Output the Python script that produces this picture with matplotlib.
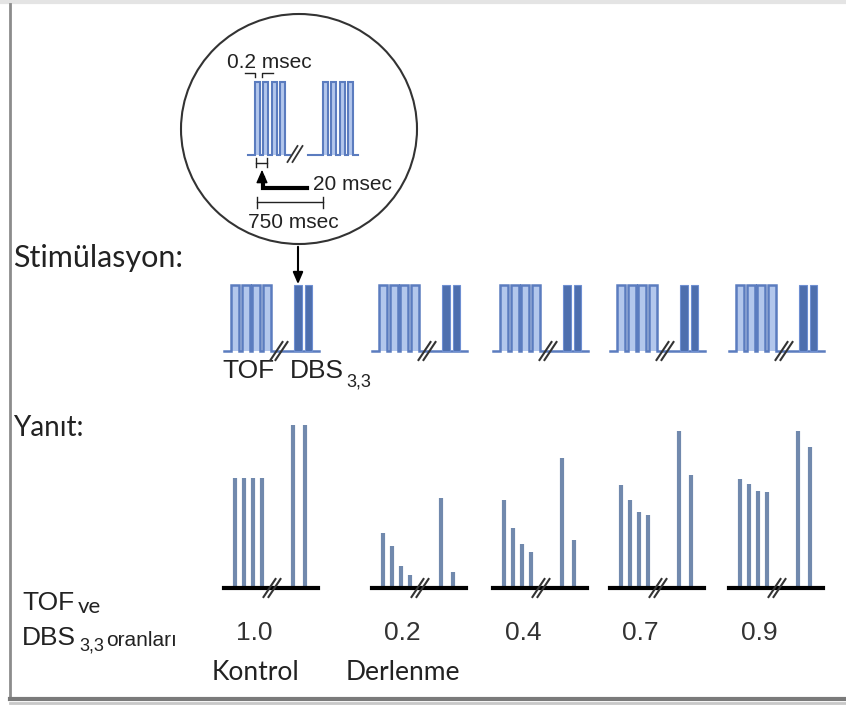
import matplotlib
matplotlib.use("Agg")
import matplotlib.pyplot as plt
from matplotlib.patches import Ellipse, Rectangle

# --- data -------------------------------------------------------------
ratio_labels = ["1.0", "0.2", "0.4", "0.7", "0.9"]
group_names = ["Kontrol", "Derlenme", "", "", ""]
# twitch heights (control twitch = 100)
tof_heights = [
    [100, 100, 100, 100],
    [50, 38, 20, 12],
    [80, 55, 40, 33],
    [94, 80, 69, 66],
    [99, 95, 88, 87],
]
dbs_heights = [
    [148, 148],
    [82, 15],
    [118, 44],
    [143, 103],
    [143, 128],
]

# --- layout -----------------------------------------------------------
W, H = 846, 707
group_x = [224, 372, 493, 610, 729]
stim_base, stim_top = 351, 285
resp_base = 588
px_per_unit = 1.1

pulse_edge = "#5b7cbf"
pulse_fill = "#b3c7ec"
dbs_color = "#4e6fae"
resp_color = "#7189ad"
dark = "#222222"

label_font = ["Lato", "DejaVu Sans"]
arial = ["Liberation Sans", "DejaVu Sans"]
narrow = ["Liberation Sans Narrow", "Liberation Sans", "DejaVu Sans"]

fig = plt.figure(figsize=(W / 100, H / 100), dpi=100)
ax = fig.add_axes([0, 0, 1, 1])
ax.set_xlim(0, W)
ax.set_ylim(H, 0)
ax.axis("off")


def pulse_train(x0, base, top, n, first, period, width, end, lw=1.8):
    xs, ys = [x0], [base]
    for i in range(n):
        px = x0 + first + i * period
        ax.add_patch(Rectangle((px, top), width, base - top, facecolor=pulse_fill,
                               edgecolor="none", zorder=1))
        xs += [px, px, px + width, px + width]
        ys += [base, top, top, base]
    xs.append(x0 + end)
    ys.append(base)
    ax.plot(xs, ys, color=pulse_edge, lw=lw, zorder=2, solid_joinstyle="miter")


def slashes(cx, cy, half=9, dx=6, gap=5, lw=1.5):
    for off in (-gap / 2, gap / 2):
        ax.plot([cx + off - dx, cx + off + dx], [cy + half, cy - half],
                color="#333333", lw=lw, zorder=4)


# --- frame ------------------------------------------------------------
ax.plot([0, W], [2, 2], color="#e4e4e4", lw=3)
ax.plot([10, 10], [4, 699], color="#8c8c8c", lw=2)
ax.plot([10, W], [699, 699], color="#7a7a7a", lw=3)
ax.plot([10, W], [702.5, 702.5], color="#c8c8c8", lw=2)

# --- zoomed circle ----------------------------------------------------
ax.add_patch(Ellipse((299, 129), 236, 230, fill=False, edgecolor="#333333", lw=1.5))
pulse_train(248, 155, 82, 4, 7, 8.3, 5, 42, lw=1.5)
pulse_train(308, 155, 82, 4, 15, 8.3, 5, 50, lw=1.5)
slashes(295, 154, half=8, dx=5, gap=5, lw=1.3)

ax.text(227, 62, "0.2 msec", family=arial, fontsize=15, color=dark, va="center")
ax.plot([245, 255, 255], [73, 73, 77], color=dark, lw=1)
ax.plot([273, 262, 262], [73, 73, 77], color=dark, lw=1)

ax.plot([256, 256], [158, 167], color=dark, lw=1)
ax.plot([267, 267], [158, 167], color=dark, lw=1)
ax.plot([256, 267], [162.5, 162.5], color=dark, lw=1)

ax.plot([307, 263, 263], [188, 188, 178], color="black", lw=3, solid_joinstyle="miter")
ax.annotate("", xy=(262, 167), xytext=(262, 182),
            arrowprops=dict(arrowstyle="-|>,head_width=0.35,head_length=0.8",
                            color="black", lw=1))
ax.text(313, 185, "20 msec", family=arial, fontsize=15, color=dark, va="center")

ax.plot([257, 323], [202, 202], color=dark, lw=1)
ax.plot([257, 257], [197, 208], color=dark, lw=1)
ax.plot([323, 323], [197, 208], color=dark, lw=1)
ax.text(248, 222, "750 msec", family=arial, fontsize=15, color=dark, va="center")

ax.annotate("", xy=(298, 287), xytext=(298, 244),
            arrowprops=dict(arrowstyle="-|>,head_width=0.3,head_length=0.7",
                            color="black", lw=1.5))

# --- row labels ---------------------------------------------------------
ax.text(13, 258, "Stimülasyon:", family=label_font, fontsize=22, color=dark, va="center")
ax.text(13, 428, "Yanıt:", family=label_font, fontsize=20, color=dark, va="center")

ax.text(222, 371, "TOF", family=arial, fontsize=19, color=dark, va="center")
ax.text(290, 371, "DBS", family=arial, fontsize=19, color=dark, va="center")
ax.text(346, 382, "3,3", family=arial, fontsize=13, color=dark, va="center")

ax.text(22, 603, "TOF", family=arial, fontsize=19, color=dark, va="center")
ax.text(78, 607, "ve", family=label_font, fontsize=16, color=dark, va="center")
ax.text(22, 638, "DBS", family=arial, fontsize=19, color=dark, va="center")
ax.text(79, 646, "3,3", family=arial, fontsize=13, color=dark, va="center")
ax.text(106, 641, "oranları", family=narrow, fontsize=15, color=dark, va="center")

# --- stimulation and response per group ----------------------------------
ratio_x_offset = 30
for g, x0 in enumerate(group_x):
    # stimulation: TOF train + DBS bursts
    pulse_train(x0, stim_base, stim_top, 4, 7, 10.5, 8, 95)
    for off in (70, 80.5):
        ax.add_patch(Rectangle((x0 + off, stim_top), 7.5, stim_base - stim_top,
                               facecolor=dbs_color, edgecolor="#6e8fd2", lw=0.8, zorder=3))
    slashes(x0 + 55, stim_base)

    # response
    for i, h in enumerate(tof_heights[g]):
        xb = x0 + 10.5 + 9.3 * i
        ax.plot([xb, xb], [resp_base, resp_base - h * px_per_unit],
                color=resp_color, lw=3, zorder=2, solid_capstyle="butt")
    for off, h in zip((69, 80.5), dbs_heights[g]):
        ax.plot([x0 + off, x0 + off], [resp_base, resp_base - h * px_per_unit],
                color=resp_color, lw=3, zorder=2, solid_capstyle="butt")
    ax.plot([x0, x0 + 94], [resp_base, resp_base], color="black", lw=3, zorder=3)
    slashes(x0 + 48, resp_base)

    ax.text(x0 + ratio_x_offset, 633, ratio_labels[g], family=arial, fontsize=19,
            color="#333333", ha="center", va="center")
    if group_names[g]:
        ax.text(x0 + ratio_x_offset + 1, 672, group_names[g], family=label_font,
                fontsize=19, color=dark, ha="center", va="center")

fig.savefig("out.png", dpi=100)
